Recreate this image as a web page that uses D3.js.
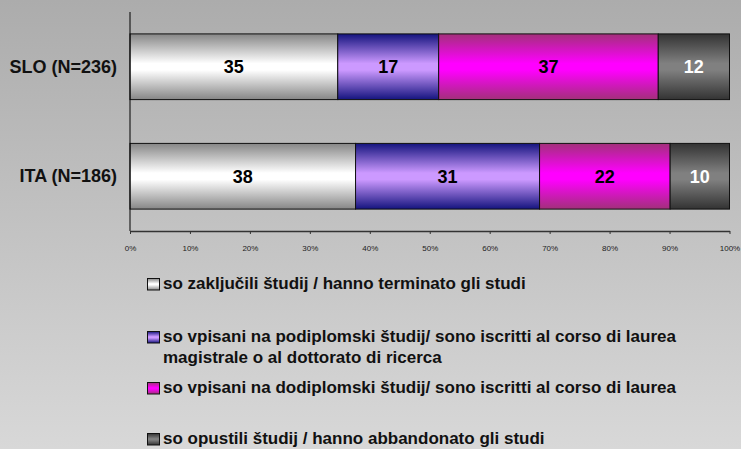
<!DOCTYPE html>
<html lang="sl">
<head>
    <meta charset="utf-8" />
    <title>Status študija</title>
    <script src="https://d3js.org/d3.v7.min.js"></script>
    <style>
        body {
            margin: 0;
            padding: 0;
        }
        svg {
            display: block;
            font-family: "Liberation Sans", Arial, sans-serif;
        }
    </style>
</head>
<body>
<svg id="chart"></svg>
<script>
    var w = 741;
    var h = 449;

    // Data
    var categories = ["SLO (N=236)", "ITA (N=186)"];
    var seriesKeys = ["terminato", "magistrale", "laurea", "abbandonato"];
    var terminato = [35, 38];
    var magistrale = [17, 31];
    var laurea = [37, 22];
    var abbandonato = [12, 10];
    var tickLabels = ["0%", "10%", "20%", "30%", "40%", "50%", "60%", "70%", "80%", "90%", "100%"];
    var legendLabels = [
        ["so zaključili študij / hanno terminato gli studi"],
        ["so vpisani na podiplomski študij/ sono iscritti al corso di laurea", "magistrale o al dottorato di ricerca"],
        ["so vpisani na dodiplomski študij/ sono iscritti al corso di laurea"],
        ["so opustili študij / hanno abbandonato gli studi"]
    ];

    // Gradient colours per series: edge colour and middle colour
    var edgeColors = ["#868686", "#14147e", "#a2307a", "#333333"];
    var midColors = ["#ffffff", "#cc99ff", "#ff00ff", "#808080"];
    var labelColors = ["#000", "#000", "#000", "#fff"];

    var rows = categories.map(function(c, i) {
        return {
            cat: c,
            terminato: terminato[i],
            magistrale: magistrale[i],
            laurea: laurea[i],
            abbandonato: abbandonato[i]
        };
    });

    var stacked = d3.stack()
        .keys(seriesKeys)
        .offset(d3.stackOffsetExpand)(rows);

    var svg = d3.select("#chart")
        .attr("width", w)
        .attr("height", h);

    var defs = svg.append("defs");

    // Background gradient
    var bg = defs.append("linearGradient")
        .attr("id", "bg")
        .attr("x1", 0).attr("y1", 0).attr("x2", 0).attr("y2", 1);
    bg.append("stop").attr("offset", 0).attr("stop-color", "#acacac");
    bg.append("stop").attr("offset", 1).attr("stop-color", "#d8d8d8");

    svg.append("rect")
        .attr("width", w)
        .attr("height", h)
        .attr("fill", "url(#bg)");

    // Bar gradients
    seriesKeys.forEach(function(k, i) {
        var g = defs.append("linearGradient")
            .attr("id", "g" + i)
            .attr("x1", 0).attr("y1", 0).attr("x2", 0).attr("y2", 1);
        g.append("stop").attr("offset", 0).attr("stop-color", edgeColors[i]);
        g.append("stop").attr("offset", 0.45).attr("stop-color", midColors[i]);
        g.append("stop").attr("offset", 0.55).attr("stop-color", midColors[i]);
        g.append("stop").attr("offset", 1).attr("stop-color", edgeColors[i]);
    });

    var xScale = d3.scaleLinear()
        .domain([0, 1])
        .range([130, 729.5]);

    var yScale = d3.scaleBand()
        .domain(categories)
        .range([12, 231])
        .paddingInner(0.4)
        .paddingOuter(0.2);

    // Bars
    var layers = svg.selectAll("g.layer")
        .data(stacked)
        .enter().append("g")
        .attr("class", "layer")
        .attr("fill", function(d, i) { return "url(#g" + i + ")"; });

    layers.selectAll("rect")
        .data(function(d) { return d; })
        .enter().append("rect")
        .attr("x", function(d) { return xScale(d[0]); })
        .attr("y", function(d) { return yScale(d.data.cat); })
        .attr("width", function(d) { return xScale(d[1]) - xScale(d[0]); })
        .attr("height", yScale.bandwidth())
        .attr("stroke", "#111")
        .attr("stroke-width", 1);

    // Value labels
    stacked.forEach(function(layer, i) {
        svg.selectAll("text.v" + i)
            .data(layer)
            .enter().append("text")
            .attr("class", "v" + i)
            .attr("x", function(d) { return (xScale(d[0]) + xScale(d[1])) / 2; })
            .attr("y", function(d) { return yScale(d.data.cat) + yScale.bandwidth() / 2; })
            .attr("dy", "0.36em")
            .attr("text-anchor", "middle")
            .attr("font-size", "18px")
            .attr("font-weight", "bold")
            .attr("fill", labelColors[i])
            .text(function(d) { return d.data[layer.key]; });
    });

    // Category axis
    var yAxis = svg.append("g")
        .attr("transform", "translate(130,0)")
        .call(d3.axisLeft(yScale).tickSize(0).tickPadding(13));
    yAxis.select(".domain").attr("stroke", "#000").attr("d", "M0,12V231");
    yAxis.selectAll("text")
        .attr("font-size", "18px")
        .attr("font-weight", "bold")
        .attr("font-family", "inherit")
        .attr("fill", "#111");

    // Percentage axis
    var xAxis = svg.append("g")
        .attr("transform", "translate(0,231)")
        .call(d3.axisBottom(xScale)
            .tickValues(d3.range(tickLabels.length).map(function(i) { return i / 10; }))
            .tickFormat(function(d, i) { return tickLabels[i]; })
            .tickSize(3)
            .tickSizeOuter(0)
            .tickPadding(11));
    xAxis.select(".domain").attr("stroke", "#333").attr("stroke-width", 1.5);
    xAxis.selectAll(".tick line").attr("stroke", "#333");
    xAxis.selectAll("text")
        .attr("font-size", "8px")
        .attr("font-family", "inherit")
        .attr("fill", "#222");

    // Legend (baselines)
    var legendY = [289, 342, 393, 444];
    var legend = svg.selectAll("g.legend")
        .data(legendLabels)
        .enter().append("g")
        .attr("class", "legend")
        .attr("transform", function(d, i) { return "translate(147.5," + legendY[i] + ")"; });

    legend.append("rect")
        .attr("x", 0)
        .attr("y", -10.5)
        .attr("width", 12)
        .attr("height", 11.5)
        .attr("fill", function(d, i) { return "url(#g" + i + ")"; })
        .attr("stroke", "#111");

    legend.append("text")
        .attr("x", 15.5)
        .attr("y", 0)
        .attr("font-size", "17px")
        .attr("font-weight", "bold")
        .attr("fill", "#111")
        .selectAll("tspan")
        .data(function(d) { return d; })
        .enter().append("tspan")
        .attr("x", 15.5)
        .attr("dy", function(d, i) { return i === 0 ? 0 : 21; })
        .text(function(d) { return d; });
</script>
</body>
</html>
